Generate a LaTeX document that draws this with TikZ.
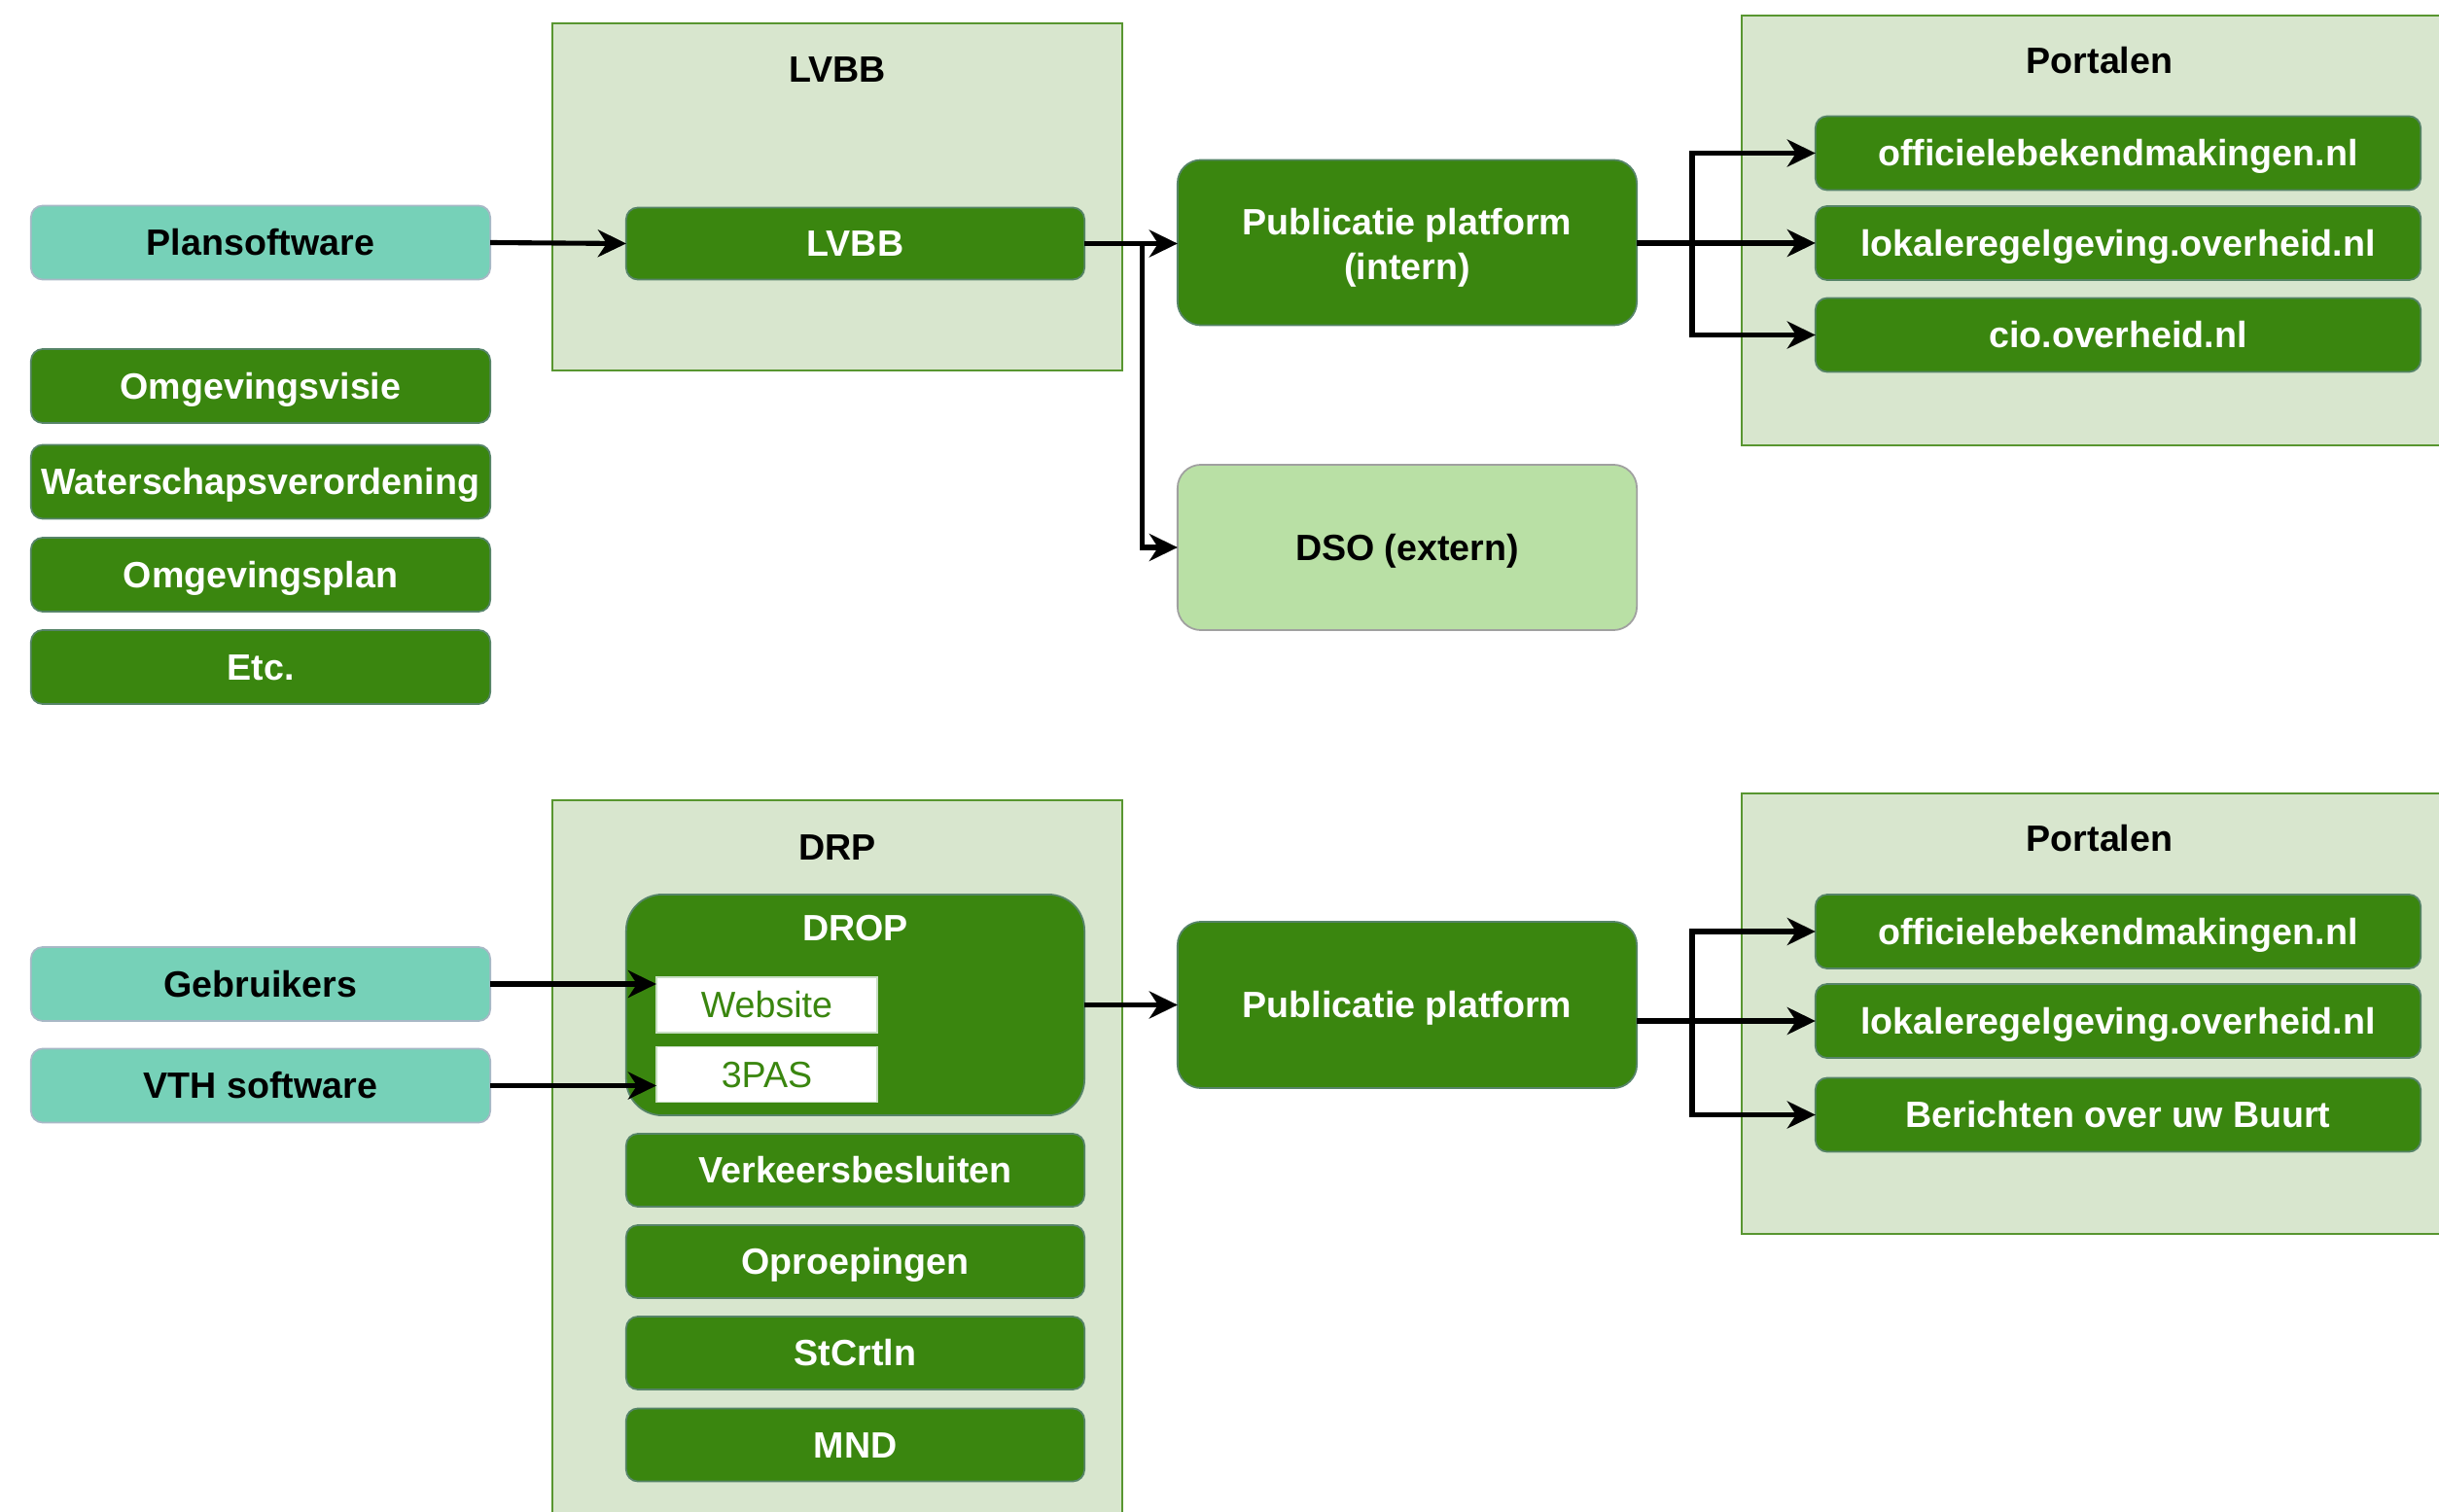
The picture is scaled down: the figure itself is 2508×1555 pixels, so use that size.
\documentclass[tikz,border=0pt]{standalone}
\usepackage{fontspec}
\setmainfont{Liberation Sans}
\usetikzlibrary{arrows.meta}
\definecolor{dkgreen}{RGB}{58,134,15}
\definecolor{dkstroke}{RGB}{86,132,104}
\definecolor{contfill}{RGB}{216,230,206}
\definecolor{contstroke}{RGB}{88,150,48}
\definecolor{tealfill}{RGB}{118,209,184}
\definecolor{tealstroke}{RGB}{168,184,198}
\definecolor{dsofill}{RGB}{185,224,165}
\definecolor{dsostroke}{RGB}{160,160,160}
\definecolor{webstroke}{RGB}{200,222,196}
\begin{document}
\begin{tikzpicture}[x=0.01cm,y=-0.01cm,
  every node/.style={inner sep=0pt, outer sep=0pt, font=\fontsize{10.7}{13.4}\selectfont},
  txt/.style={text height=9.68pt, text depth=2.27pt},
  dkbox/.style={txt, draw=dkstroke, line width=0.5pt, fill=dkgreen, text=white, font=\fontsize{10.7}{13.4}\selectfont\bfseries, rounded corners=0.12cm, minimum width=4.72cm, minimum height=0.76cm},
  bigbox/.style={dkbox, rounded corners=0.24cm, minimum height=1.70cm, align=center},
  tealbox/.style={txt, draw=tealstroke, line width=0.5pt, fill=tealfill, text=black, font=\fontsize{10.7}{13.4}\selectfont\bfseries, rounded corners=0.12cm, minimum width=4.72cm, minimum height=0.76cm},
  portbox/.style={dkbox, minimum width=6.22cm},
  webbox/.style={txt, draw=webstroke, line width=0.5pt, fill=white, text=dkgreen, minimum width=2.27cm, minimum height=0.57cm},
  cont/.style={draw=contstroke, line width=0.6pt, fill=contfill},
  ctitle/.style={txt, font=\fontsize{10.7}{13.4}\selectfont\bfseries, text=black},
  conn/.style={line width=1.45pt, -{Stealth[length=0.29cm, width=0.28cm, inset=0.09cm]}}
]
\useasboundingbox (0,0) rectangle (2508,1555);

% containers
\node[cont, minimum width=5.86cm, minimum height=3.57cm] (lvbbc) at (861,202.5) {};
\node[ctitle] (lvbbt) at (861,71) {LVBB};
\node[cont, minimum width=7.36cm, minimum height=4.42cm] (portc1) at (2159,237) {};
\node[ctitle] (portt1) at (2159,62) {Portalen};
\node[cont, minimum width=5.86cm, minimum height=8.77cm] (drpc) at (861,1261.5) {};
\node[ctitle] (drpt) at (861,871) {DRP};
\node[cont, minimum width=7.36cm, minimum height=4.53cm] (portc2) at (2159,1042.5) {};
\node[ctitle] (portt2) at (2159,862) {Portalen};

% top part
\node[tealbox] (plan) at (268,249.5) {Plansoftware};
\node[dkbox, minimum width=4.71cm, minimum height=0.74cm] (lvbb) at (879.5,250.5) {LVBB};
\node[bigbox, text height=21.34pt, text depth=0pt, font=\fontsize{10.7}{13}\selectfont\bfseries] (pub1) at (1447,249.5) {Publicatie platform\\(intern)};
\node[bigbox, fill=dsofill, draw=dsostroke, text=black] (dso) at (1447,563) {DSO (extern)};
\node[portbox] (off1) at (2178,157.5) {officielebekendmakingen.nl};
\node[portbox] (lok1) at (2178,250) {lokaleregelgeving.overheid.nl};
\node[portbox] (cio) at (2178,344.5) {cio.overheid.nl};

\node[dkbox] (visie) at (268,397) {Omgevingsvisie};
\node[dkbox] (water) at (268,495.5) {Waterschapsverordening};
\node[dkbox] (oplan) at (268,591) {Omgevingsplan};
\node[dkbox] (etc) at (268,686) {Etc.};

% bottom part
\node[tealbox] (geb) at (268,1012) {Gebruikers};
\node[tealbox] (vth) at (268,1116.5) {VTH software};
\node[dkbox, rounded corners=0.37cm, minimum width=4.71cm, minimum height=2.27cm] (drop) at (879.5,1033.5) {};
\node[txt, text=white, font=\fontsize{10.7}{13.4}\selectfont\bfseries] (dropt) at (879.5,954) {DROP};
\node[webbox] (web) at (788.5,1033.5) {Website};
\node[webbox] (pas) at (788.5,1105) {3PAS};
\node[dkbox, minimum width=4.71cm, minimum height=0.75cm] (verk) at (879.5,1203.5) {Verkeersbesluiten};
\node[dkbox, minimum width=4.71cm, minimum height=0.75cm] (oproep) at (879.5,1297.5) {Oproepingen};
\node[dkbox, minimum width=4.71cm, minimum height=0.75cm] (stcrt) at (879.5,1391.5) {StCrtln};
\node[dkbox, minimum width=4.71cm, minimum height=0.75cm] (mnd) at (879.5,1486) {MND};
\node[bigbox, minimum height=1.71cm] (pub2) at (1447,1033.5) {Publicatie platform};
\node[portbox] (off2) at (2178,958) {officielebekendmakingen.nl};
\node[portbox] (lok2) at (2178,1050) {lokaleregelgeving.overheid.nl};
\node[portbox] (ber) at (2178,1146.5) {Berichten over uw Buurt};

% connectors top
\draw[conn] (plan.east) -- (lvbb.west);
\draw[conn] (lvbb.east) -- (pub1.west |- lvbb.east);
\draw[conn] (lvbb.east) -- ++(59,0) |- (dso.west);
\draw[conn] (pub1.east |- lok1.west) -- (lok1.west);
\coordinate (fork1) at (1740,250);
\draw[conn] (pub1.east |- lok1.west) -- (fork1) |- (off1.west);
\draw[conn] (fork1) |- (cio.west);

% connectors bottom
\draw[conn] (geb.east) -- (geb.east -| web.west);
\draw[conn] (vth.east) -- (vth.east -| pas.west);
\draw[conn] (drop.east) -- (pub2.west);
\draw[conn] (pub2.east |- lok2.west) -- (lok2.west);
\coordinate (fork2) at (1740,1050);
\draw[conn] (pub2.east |- lok2.west) -- (fork2) |- (off2.west);
\draw[conn] (fork2) |- (ber.west);
\end{tikzpicture}
\end{document}
